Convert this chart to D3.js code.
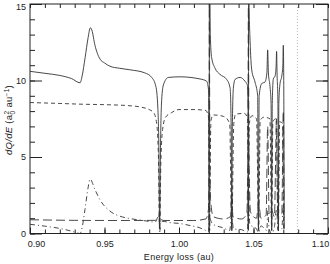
<!DOCTYPE html>
<html lang="en">
<head>
<meta charset="UTF-8" />
<title>dQ/dE vs energy loss</title>
<style>
  body { margin: 0; background: #fff; }
  svg text { font-family: "Liberation Sans", Arial, sans-serif; fill: #222; }
  .axis path { display: none; }
  .axis line { stroke: #222; }
</style>
</head>
<body>
<svg id="chart" width="330" height="264"></svg>
<script src="https://d3js.org/d3.v7.min.js"></script>
<script>
  // [energy loss (au), dQ/dE]
  const total = [
    [0.900,10.60],[0.910,10.47],[0.920,10.33],[0.928,10.12],[0.9336,9.85],[0.9350,10.30],
    [0.9370,11.50],[0.9390,12.80],[0.9405,13.45],[0.9415,13.30],[0.9436,12.30],[0.9470,11.40],
    [0.9500,11.15],[0.9537,10.93],[0.9600,10.80],[0.9670,10.70],[0.9770,10.50],[0.9817,10.20],
    [0.9845,9.60],[0.9858,8.20],[0.9865,5.50],[0.9870,0.30],[0.9875,5.00],[0.9882,8.40],
    [0.9895,9.70],[0.9928,10.20],[1.0007,10.24],[1.0141,10.10],[1.0186,9.95],[1.0198,9.40],
    [1.0201,6.00],[1.0202,0.20],[1.0203,6.00],[1.0204,17.0],[1.0206,17.0],[1.0210,13.0],
    [1.0219,11.50],[1.0242,10.80],[1.0275,10.40],[1.0320,10.07],[1.0343,9.50],[1.0350,7.00],
    [1.0354,0.20],[1.0358,7.00],[1.0365,9.50],[1.0376,10.07],[1.0410,10.20],[1.0443,9.95],
    [1.0459,9.70],[1.0464,8.00],[1.0465,0.20],[1.0466,8.00],[1.0467,17.0],[1.0470,15.0],
    [1.0477,12.6],[1.0488,10.7],[1.0510,9.90],[1.0528,9.00],[1.0533,0.20],[1.0538,9.00],
    [1.0555,9.80],[1.0577,9.90],[1.0590,10.5],[1.0595,12.0],[1.0600,10.5],[1.0611,9.60],
    [1.0618,8.50],[1.0622,0.20],[1.0626,8.50],[1.0633,10.1],[1.0645,10.3],[1.0652,11.0],
    [1.0655,11.9],[1.0658,10.5],[1.0664,8.50],[1.0667,0.20],[1.0670,8.50],[1.0678,9.80],
    [1.0690,10.3],[1.0697,11.0],[1.0700,12.3],[1.0703,10.0],[1.0706,0.30]
  ];
  const partShort = [
    [0.900,8.56],[0.920,8.50],[0.935,8.45],[0.950,8.42],[0.967,8.35],[0.975,8.25],
    [0.980,8.10],[0.983,7.90],[0.9850,7.20],[0.9862,5.00],[0.9870,0.20],[0.9878,4.50],
    [0.9890,6.80],[0.9910,7.60],[0.9950,7.90],[1.0000,8.10],[1.0100,8.10],[1.0180,8.04],
    [1.0198,7.60],[1.0203,4.00],[1.0206,0.20],[1.0209,4.00],[1.0215,7.40],[1.0230,7.75],
    [1.0300,7.65],[1.0340,7.20],[1.0354,0.20],[1.0368,7.20],[1.0380,7.80],[1.0440,7.85],
    [1.0460,7.50],[1.0466,0.20],[1.0472,7.20],[1.0490,7.70],[1.0520,7.50],[1.0535,0.20],
    [1.0545,7.40],[1.0570,7.60],[1.0610,7.50],[1.0622,0.20],[1.0630,7.30],[1.0650,7.50],
    [1.0667,0.20],[1.0675,7.30],[1.0695,7.20],[1.0702,0.30]
  ];
  const partLong = [
    [0.900,0.90],[0.930,0.86],[0.960,0.85],[0.984,0.86],[0.9865,1.10],[0.9870,1.40],
    [0.9876,0.95],[0.9900,0.85],[1.0100,0.85],[1.0180,0.95],[1.0198,1.60],[1.0202,6.00],
    [1.0204,16.5],[1.0206,8.00],[1.0212,2.20],[1.0230,1.10],[1.0300,0.95],[1.0345,1.10],
    [1.0354,2.50],[1.0362,1.10],[1.0420,0.95],[1.0455,1.30],[1.0463,6.00],[1.0466,16.5],
    [1.0469,6.00],[1.0480,1.40],[1.0520,1.00],[1.0535,2.00],[1.0550,1.00],[1.0585,1.20],
    [1.0595,7.00],[1.0605,1.20],[1.0622,1.50],[1.0640,1.10],[1.0655,7.50],[1.0662,1.20],
    [1.0690,1.30],[1.0700,8.00],[1.0705,1.00]
  ];
  const partDashDot = [
    [0.900,0.60],[0.910,0.48],[0.920,0.33],[0.928,0.15],[0.9336,0.00],[0.9350,0.40],
    [0.9369,1.57],[0.9390,3.00],[0.9403,3.55],[0.9436,2.87],[0.9470,2.20],[0.9537,1.46],
    [0.9604,1.13],[0.9670,0.98],[0.9760,0.85],[0.9840,0.75],[0.9866,1.20],[0.9870,0.10],
    [0.9880,0.80],[0.9950,0.70],[1.0007,0.65],[1.0074,0.52],[1.0140,0.37],[1.0174,0.22],
    [1.0198,0.10],[1.0203,2.50],[1.0208,1.00],[1.0230,0.60],[1.0297,0.37],[1.0340,0.20],
    [1.0354,1.20],[1.0365,0.30],[1.0420,0.25],[1.0460,0.10],[1.0466,3.00],[1.0475,0.60],
    [1.0520,0.30],[1.0535,0.05],[1.0550,0.50],[1.0590,0.20],[1.0595,1.50],[1.0605,0.30],
    [1.0622,0.00],[1.0640,0.40],[1.0655,1.60],[1.0665,0.20],[1.0690,0.30],[1.0700,1.80],
    [1.0705,0.20]
  ];
  const threshold = 1.0795;

  const xTicks = [0.90, 0.95, 1.00, 1.05, 1.10];
  const yTicks = [0, 5, 10, 15];

  const svg = d3.select("#chart");
  const mLeft = 30, mRight = 328, mTop = 4, mBottom = 233.5;

  const x = d3.scaleLinear().domain([0.90, 1.10]).range([mLeft, mRight]);
  const y = d3.scaleLinear().domain([0, 15]).range([mBottom, mTop]);

  const xMinor = d3.range(0, 21).map((i) => 0.90 + i * 0.01);
  const yMinor = d3.range(0, 16);

  svg.append("clipPath").attr("id", "plot")
    .append("rect")
    .attr("x", mLeft).attr("y", mTop)
    .attr("width", mRight - mLeft).attr("height", mBottom - mTop);

  // ticks (inward on every side)
  svg.append("g").attr("class", "axis")
    .attr("transform", `translate(0,${mBottom})`)
    .call(d3.axisBottom(x).tickValues(xMinor).tickSize(-4).tickFormat(""));
  svg.append("g").attr("class", "axis")
    .attr("transform", `translate(0,${mTop})`)
    .call(d3.axisTop(x).tickValues(xMinor).tickSize(-4).tickFormat(""));
  const xAxis = svg.append("g").attr("class", "axis")
    .attr("transform", `translate(0,${mBottom})`)
    .call(d3.axisBottom(x).tickValues(xTicks).tickSize(-6).tickPadding(7)
      .tickFormat(d3.format(".2f")));
  xAxis.selectAll("text").style("font-size", "9px");
  xAxis.selectAll(".tick").filter((d) => d === 0.90).select("text").attr("dx", 6);
  xAxis.selectAll(".tick").filter((d) => d === 1.10).select("text").attr("dx", -8);

  svg.append("g").attr("class", "axis")
    .attr("transform", `translate(${mLeft},0)`)
    .call(d3.axisLeft(y).tickValues(yMinor).tickSize(-5).tickFormat(""));
  svg.append("g").attr("class", "axis")
    .attr("transform", `translate(${mRight},0)`)
    .call(d3.axisRight(y).tickValues(yMinor).tickSize(-5).tickFormat(""));
  svg.append("g").attr("class", "axis")
    .attr("transform", `translate(${mRight},0)`)
    .call(d3.axisRight(y).tickValues(yTicks).tickSize(-12).tickFormat(""));
  const yAxis = svg.append("g").attr("class", "axis")
    .attr("transform", `translate(${mLeft},0)`)
    .call(d3.axisLeft(y).tickValues(yTicks).tickSize(-12).tickPadding(4));
  yAxis.selectAll("text").style("font-size", "9px");
  yAxis.selectAll(".tick").filter((d) => d === 15).select("text").attr("dy", "0.6em");

  svg.append("rect")
    .attr("x", mLeft).attr("y", mTop)
    .attr("width", mRight - mLeft).attr("height", mBottom - mTop)
    .attr("fill", "none").attr("stroke", "#222").attr("stroke-width", 1);

  // threshold marker
  svg.append("line")
    .attr("x1", x(threshold)).attr("x2", x(threshold))
    .attr("y1", mTop).attr("y2", mBottom)
    .attr("stroke", "#aaa").attr("stroke-width", 0.8)
    .attr("stroke-dasharray", "1,2");

  const line = d3.line()
    .x((d) => x(d[0]))
    .y((d) => y(d[1]))
    .curve(d3.curveMonotoneX);

  const series = [
    { data: partDashDot, dash: "5,3,1,3" },
    { data: partLong, dash: "9,4" },
    { data: partShort, dash: "4,3" },
    { data: total, dash: null }
  ];

  svg.append("g").attr("clip-path", "url(#plot)")
    .selectAll("path")
    .data(series)
    .join("path")
    .attr("d", (s) => line(s.data))
    .attr("fill", "none")
    .attr("stroke", "#333")
    .attr("stroke-width", 0.9)
    .attr("stroke-dasharray", (s) => s.dash);

  // axis titles
  svg.append("text")
    .attr("x", (mLeft + mRight) / 2).attr("y", 260)
    .attr("text-anchor", "middle")
    .style("font-size", "9px")
    .style("letter-spacing", "0.3px")
    .text("Energy loss (au)");

  const yt = svg.append("text")
    .attr("transform", "translate(12,120) rotate(-90)")
    .attr("text-anchor", "middle")
    .style("font-size", "9.5px")
    .style("letter-spacing", "0.3px");
  yt.append("tspan").style("font-style", "italic").text("dQ/dE");
  yt.append("tspan").text(" (a");
  yt.append("tspan").attr("dy", -3).style("font-size", "6.5px").text("2");
  yt.append("tspan").attr("dx", -3.8).attr("dy", 6).style("font-size", "6.5px").text("0");
  yt.append("tspan").attr("dy", -3).text(" au");
  yt.append("tspan").attr("dy", -3).style("font-size", "6.5px").text("−1");
  yt.append("tspan").attr("dy", 3).text(")");
</script>
</body>
</html>
